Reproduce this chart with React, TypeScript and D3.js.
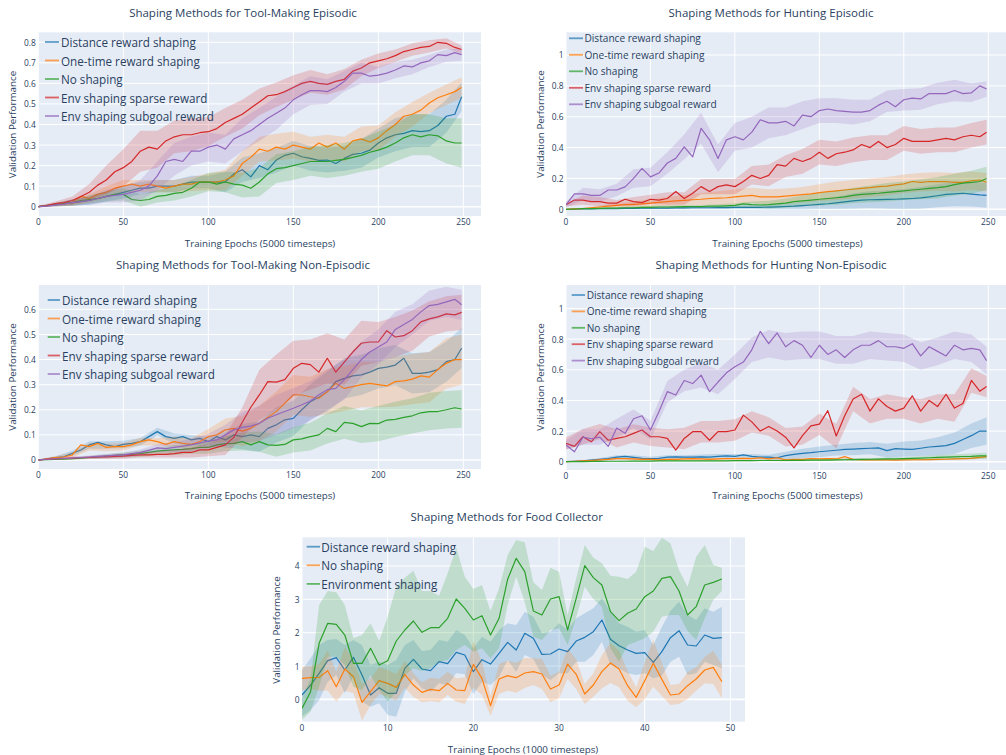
import * as d3 from 'd3';

const FONT = "'Open Sans', sans-serif";
const INK = '#2a3f5f';
const PLOT_BG = '#E5ECF6';

const BLUE = '#1f77b4';
const ORANGE = '#ff7f0e';
const GREEN = '#2ca02c';
const RED = '#d62728';
const PURPLE = '#9467bd';

// sampled epochs: means every 5 epochs, band half-widths every 10
const epochs5 = d3.range(0, 250, 5).concat([249]);
const epochs10 = d3.range(0, 250, 10).concat([249]);
const foodEpochs = d3.range(0, 50);

const toolNames = [
  'Distance reward shaping',
  'One-time reward shaping',
  'No shaping',
  'Env shaping sparse reward',
  'Env shaping subgoal reward',
];
const toolColors = [BLUE, ORANGE, GREEN, RED, PURPLE];

// ---- Tool-Making Episodic
const p1Distance = [0,0.005,0.01,0.015,0.02,0.025,0.03,0.04,0.05,0.06,0.07,0.08,0.09,0.09,0.1,0.1,0.1,0.11,0.12,0.12,0.12,0.12,0.12,0.16,0.18,0.145,0.2,0.18,0.227,0.25,0.26,0.243,0.235,0.225,0.227,0.21,0.235,0.255,0.26,0.275,0.31,0.335,0.35,0.357,0.37,0.365,0.37,0.395,0.44,0.45,0.535];
const p1OneTime = [0,0.005,0.01,0.015,0.02,0.05,0.04,0.06,0.07,0.09,0.1,0.11,0.1,0.11,0.1,0.09,0.1,0.11,0.11,0.12,0.12,0.12,0.13,0.15,0.21,0.24,0.28,0.27,0.29,0.28,0.3,0.29,0.28,0.31,0.29,0.31,0.28,0.32,0.33,0.315,0.335,0.37,0.4,0.44,0.45,0.47,0.505,0.53,0.545,0.56,0.58];
const p1None = [0,0.005,0.01,0.015,0.02,0.03,0.035,0.04,0.05,0.06,0.06,0.035,0.03,0.035,0.05,0.055,0.065,0.07,0.09,0.12,0.12,0.11,0.12,0.11,0.105,0.09,0.12,0.16,0.185,0.19,0.2,0.21,0.22,0.22,0.22,0.225,0.23,0.24,0.25,0.265,0.275,0.29,0.31,0.335,0.35,0.34,0.35,0.345,0.32,0.31,0.31];
const p1Sparse = [0,0.005,0.015,0.02,0.03,0.05,0.07,0.105,0.13,0.17,0.19,0.22,0.27,0.29,0.28,0.32,0.34,0.35,0.35,0.36,0.365,0.38,0.41,0.43,0.45,0.48,0.51,0.54,0.545,0.56,0.58,0.6,0.61,0.6,0.595,0.61,0.62,0.66,0.675,0.7,0.71,0.72,0.735,0.755,0.765,0.775,0.78,0.8,0.795,0.775,0.765];
const p1Subgoal = [0,0.003,0.008,0.012,0.02,0.025,0.03,0.04,0.05,0.055,0.06,0.07,0.08,0.1,0.15,0.22,0.23,0.22,0.27,0.27,0.29,0.3,0.28,0.33,0.35,0.37,0.4,0.43,0.455,0.48,0.52,0.545,0.565,0.565,0.56,0.58,0.61,0.65,0.65,0.635,0.64,0.65,0.665,0.685,0.68,0.7,0.71,0.74,0.735,0.75,0.74];
const p1DistanceSpread = [0.003,0.008,0.015,0.02,0.025,0.03,0.03,0.03,0.03,0.03,0.03,0.05,0.06,0.06,0.06,0.06,0.06,0.06,0.06,0.07,0.07,0.08,0.08,0.08,0.08,0.07];
const p1OneTimeSpread = [0.003,0.008,0.015,0.02,0.03,0.03,0.03,0.03,0.03,0.035,0.04,0.05,0.06,0.06,0.065,0.065,0.06,0.06,0.06,0.06,0.06,0.06,0.06,0.05,0.05,0.05];
const p1NoneSpread = [0.003,0.008,0.015,0.02,0.025,0.03,0.03,0.03,0.035,0.04,0.045,0.05,0.06,0.07,0.07,0.07,0.07,0.08,0.08,0.08,0.09,0.09,0.1,0.1,0.11,0.12];
const p1SparseSpread = [0.005,0.01,0.02,0.04,0.07,0.09,0.1,0.09,0.08,0.08,0.07,0.07,0.07,0.065,0.06,0.06,0.055,0.05,0.05,0.04,0.035,0.03,0.03,0.03,0.025,0.02];
const p1SubgoalSpread = [0.003,0.008,0.015,0.02,0.03,0.04,0.05,0.07,0.08,0.07,0.07,0.07,0.08,0.08,0.08,0.07,0.07,0.06,0.05,0.05,0.04,0.04,0.035,0.03,0.03,0.03];

// ---- Hunting Episodic
const p2Distance = [0,0.001,0.002,0.003,0.004,0.005,0.005,0.006,0.006,0.007,0.007,0.008,0.008,0.009,0.009,0.01,0.01,0.01,0.011,0.011,0.012,0.012,0.013,0.013,0.014,0.016,0.018,0.02,0.024,0.028,0.032,0.036,0.042,0.048,0.054,0.06,0.062,0.063,0.064,0.065,0.067,0.07,0.074,0.08,0.088,0.097,0.1,0.104,0.098,0.093,0.09];
const p2OneTime = [0,0.003,0.005,0.01,0.015,0.02,0.025,0.03,0.032,0.035,0.04,0.045,0.05,0.055,0.058,0.062,0.065,0.07,0.072,0.075,0.08,0.085,0.09,0.08,0.08,0.08,0.085,0.09,0.095,0.1,0.108,0.115,0.12,0.125,0.13,0.136,0.14,0.147,0.15,0.158,0.165,0.18,0.175,0.18,0.18,0.18,0.175,0.175,0.185,0.19,0.175];
const p2None = [0,0.002,0.004,0.005,0.006,0.007,0.008,0.01,0.01,0.012,0.013,0.015,0.015,0.016,0.017,0.018,0.018,0.02,0.02,0.022,0.025,0.035,0.03,0.028,0.03,0.035,0.04,0.05,0.055,0.06,0.065,0.07,0.075,0.08,0.09,0.097,0.1,0.104,0.11,0.115,0.12,0.125,0.13,0.136,0.14,0.147,0.16,0.17,0.175,0.18,0.2];
const p2Sparse = [0.03,0.06,0.06,0.05,0.05,0.04,0.04,0.065,0.05,0.043,0.065,0.06,0.07,0.115,0.07,0.104,0.147,0.115,0.147,0.158,0.147,0.18,0.22,0.2,0.22,0.29,0.28,0.33,0.31,0.33,0.37,0.33,0.36,0.37,0.385,0.42,0.4,0.44,0.4,0.42,0.46,0.44,0.44,0.44,0.45,0.46,0.45,0.47,0.48,0.47,0.5];
const p2Subgoal = [0.03,0.1,0.1,0.09,0.09,0.125,0.125,0.145,0.2,0.265,0.21,0.235,0.3,0.33,0.405,0.34,0.525,0.45,0.33,0.45,0.47,0.45,0.5,0.58,0.56,0.56,0.57,0.54,0.61,0.6,0.64,0.65,0.64,0.635,0.63,0.63,0.64,0.675,0.7,0.665,0.71,0.72,0.715,0.75,0.75,0.75,0.77,0.75,0.755,0.8,0.78];
const p2DistanceSpread = [0.001,0.002,0.004,0.005,0.006,0.007,0.008,0.009,0.01,0.011,0.012,0.013,0.015,0.02,0.025,0.03,0.04,0.05,0.055,0.06,0.065,0.07,0.075,0.08,0.08,0.08];
const p2OneTimeSpread = [0.003,0.005,0.01,0.015,0.02,0.025,0.03,0.035,0.04,0.045,0.05,0.05,0.05,0.05,0.05,0.055,0.06,0.06,0.06,0.06,0.06,0.06,0.06,0.06,0.06,0.06];
const p2NoneSpread = [0.002,0.004,0.005,0.006,0.008,0.01,0.01,0.01,0.01,0.012,0.015,0.02,0.025,0.03,0.035,0.04,0.045,0.05,0.055,0.06,0.06,0.065,0.07,0.07,0.075,0.075];
const p2SparseSpread = [0.01,0.03,0.03,0.02,0.03,0.03,0.04,0.04,0.05,0.05,0.05,0.06,0.07,0.07,0.08,0.08,0.08,0.08,0.08,0.08,0.08,0.08,0.08,0.08,0.08,0.08];
const p2SubgoalSpread = [0.02,0.04,0.04,0.04,0.06,0.06,0.07,0.08,0.1,0.09,0.09,0.1,0.1,0.09,0.09,0.08,0.08,0.08,0.07,0.07,0.07,0.07,0.07,0.07,0.06,0.05];

// ---- Tool-Making Non-Episodic
const p3Distance = [0,0.005,0.01,0.013,0.027,0.04,0.06,0.07,0.06,0.053,0.062,0.066,0.073,0.093,0.113,0.093,0.086,0.093,0.08,0.086,0.073,0.093,0.08,0.1,0.093,0.1,0.093,0.126,0.14,0.16,0.166,0.2,0.232,0.25,0.272,0.312,0.325,0.335,0.339,0.35,0.365,0.37,0.378,0.405,0.345,0.345,0.35,0.36,0.392,0.4,0.445];
const p3OneTime = [0,0.005,0.01,0.012,0.02,0.06,0.053,0.066,0.05,0.053,0.053,0.06,0.073,0.08,0.073,0.062,0.073,0.066,0.062,0.073,0.093,0.1,0.12,0.126,0.115,0.126,0.146,0.17,0.193,0.226,0.259,0.259,0.252,0.246,0.272,0.305,0.285,0.292,0.3,0.305,0.3,0.295,0.312,0.315,0.322,0.335,0.33,0.36,0.385,0.4,0.4];
const p3None = [0,0.001,0.002,0.003,0.005,0.007,0.01,0.012,0.015,0.018,0.02,0.022,0.025,0.03,0.035,0.038,0.04,0.042,0.045,0.05,0.05,0.06,0.065,0.066,0.073,0.06,0.073,0.06,0.058,0.062,0.08,0.084,0.093,0.1,0.126,0.113,0.15,0.146,0.133,0.146,0.145,0.159,0.162,0.17,0.176,0.188,0.193,0.193,0.2,0.208,0.203];
const p3Sparse = [0,0.003,0.005,0.006,0.008,0.01,0.01,0.012,0.012,0.014,0.015,0.018,0.02,0.02,0.022,0.022,0.025,0.03,0.03,0.04,0.04,0.05,0.06,0.09,0.15,0.21,0.259,0.312,0.31,0.32,0.365,0.385,0.38,0.35,0.405,0.35,0.39,0.43,0.465,0.47,0.47,0.515,0.49,0.495,0.515,0.55,0.562,0.57,0.582,0.578,0.588];
const p3Subgoal = [0,0.003,0.005,0.006,0.008,0.01,0.012,0.014,0.016,0.018,0.02,0.025,0.03,0.038,0.048,0.045,0.05,0.055,0.06,0.068,0.075,0.08,0.1,0.12,0.13,0.135,0.146,0.166,0.18,0.193,0.206,0.22,0.235,0.26,0.28,0.285,0.32,0.36,0.4,0.43,0.45,0.47,0.52,0.54,0.56,0.59,0.615,0.62,0.63,0.64,0.618];
const p3DistanceSpread = [0.002,0.005,0.01,0.015,0.015,0.015,0.015,0.015,0.02,0.02,0.02,0.03,0.05,0.06,0.07,0.07,0.07,0.08,0.08,0.08,0.08,0.08,0.08,0.08,0.08,0.08];
const p3OneTimeSpread = [0.002,0.005,0.01,0.015,0.015,0.015,0.015,0.015,0.02,0.025,0.03,0.045,0.06,0.07,0.08,0.08,0.08,0.09,0.09,0.09,0.09,0.1,0.1,0.1,0.1,0.1];
const p3NoneSpread = [0.001,0.002,0.004,0.006,0.008,0.01,0.012,0.015,0.02,0.02,0.025,0.03,0.035,0.04,0.045,0.05,0.055,0.06,0.065,0.065,0.07,0.07,0.07,0.075,0.075,0.075];
const p3SparseSpread = [0.002,0.004,0.005,0.006,0.008,0.01,0.01,0.012,0.015,0.02,0.025,0.04,0.06,0.1,0.11,0.11,0.1,0.1,0.09,0.09,0.08,0.08,0.08,0.07,0.07,0.07];
const p3SubgoalSpread = [0.002,0.004,0.005,0.006,0.008,0.01,0.012,0.015,0.02,0.025,0.03,0.04,0.06,0.07,0.08,0.08,0.08,0.08,0.08,0.07,0.07,0.07,0.06,0.06,0.06,0.06];

// ---- Hunting Non-Episodic
const p4Distance = [0,0.003,0.006,0.01,0.015,0.02,0.03,0.035,0.028,0.022,0.02,0.022,0.03,0.032,0.03,0.03,0.032,0.03,0.035,0.038,0.035,0.045,0.035,0.03,0.03,0.026,0.04,0.048,0.055,0.059,0.065,0.07,0.075,0.08,0.082,0.085,0.088,0.09,0.072,0.085,0.082,0.08,0.088,0.096,0.1,0.105,0.12,0.145,0.17,0.2,0.2];
const p4OneTime = [0,0.002,0.005,0.008,0.012,0.015,0.02,0.02,0.018,0.015,0.015,0.012,0.015,0.015,0.018,0.02,0.018,0.015,0.018,0.02,0.02,0.022,0.02,0.026,0.018,0.026,0.012,0.015,0.015,0.02,0.018,0.02,0.018,0.033,0.015,0.012,0.012,0.012,0.012,0.011,0.012,0.013,0.013,0.014,0.015,0.016,0.018,0.02,0.022,0.028,0.033];
const p4None = [0,0.001,0.001,0.002,0.002,0.003,0.003,0.003,0.004,0.004,0.004,0.005,0.005,0.005,0.005,0.005,0.006,0.006,0.006,0.006,0.007,0.007,0.007,0.008,0.008,0.008,0.008,0.009,0.009,0.01,0.01,0.011,0.012,0.013,0.014,0.015,0.016,0.017,0.018,0.019,0.02,0.022,0.024,0.026,0.028,0.03,0.032,0.034,0.035,0.038,0.038];
const p4Sparse = [0.12,0.1,0.163,0.13,0.196,0.14,0.152,0.163,0.185,0.207,0.163,0.163,0.152,0.076,0.152,0.196,0.196,0.14,0.196,0.196,0.207,0.304,0.26,0.2,0.23,0.2,0.16,0.09,0.17,0.234,0.245,0.333,0.168,0.3,0.409,0.44,0.33,0.41,0.36,0.33,0.35,0.43,0.33,0.4,0.36,0.44,0.35,0.38,0.53,0.46,0.49];
const p4Subgoal = [0.11,0.065,0.16,0.15,0.16,0.1,0.22,0.185,0.28,0.3,0.207,0.326,0.457,0.435,0.53,0.51,0.565,0.457,0.52,0.58,0.62,0.65,0.73,0.85,0.77,0.84,0.75,0.79,0.76,0.68,0.76,0.7,0.73,0.68,0.73,0.76,0.76,0.79,0.75,0.75,0.74,0.77,0.69,0.75,0.72,0.69,0.76,0.73,0.74,0.73,0.66];
const p4DistanceSpread = [0.002,0.006,0.01,0.012,0.015,0.012,0.012,0.012,0.015,0.015,0.015,0.015,0.015,0.025,0.03,0.035,0.035,0.04,0.04,0.045,0.05,0.05,0.06,0.07,0.08,0.09];
const p4OneTimeSpread = [0.002,0.004,0.006,0.006,0.006,0.006,0.006,0.006,0.006,0.006,0.006,0.006,0.006,0.006,0.006,0.006,0.006,0.006,0.006,0.006,0.006,0.006,0.006,0.006,0.008,0.008];
const p4NoneSpread = [0.001,0.002,0.002,0.003,0.003,0.003,0.004,0.004,0.004,0.005,0.005,0.005,0.005,0.006,0.006,0.006,0.007,0.008,0.009,0.01,0.01,0.012,0.014,0.016,0.018,0.02];
const p4SparseSpread = [0.04,0.05,0.05,0.06,0.06,0.06,0.06,0.07,0.07,0.07,0.07,0.07,0.06,0.06,0.06,0.07,0.08,0.08,0.08,0.08,0.07,0.08,0.08,0.09,0.08,0.07];
const p4SubgoalSpread = [0.03,0.05,0.05,0.06,0.06,0.06,0.07,0.07,0.08,0.08,0.08,0.08,0.09,0.09,0.09,0.09,0.09,0.09,0.09,0.09,0.09,0.09,0.09,0.09,0.09,0.09];

// ---- Food Collector
const foodNames = ['Distance reward shaping', 'No shaping', 'Environment shaping'];
const foodDistance = [0.13,0.43,0.78,1.16,1.25,0.88,1.26,0.73,0.13,0.35,0.18,0.18,0.93,1.2,0.91,0.86,1.13,1.07,1.41,1.33,0.83,1.19,1.06,1.38,1.71,1.48,1.98,1.83,1.35,1.36,1.51,1.43,1.75,1.86,2.03,2.38,1.8,1.61,1.48,1.38,1.4,1.11,1.43,1.85,2.06,1.63,1.6,1.93,1.83,1.85];
const foodDistanceHi = [0.88,1.23,1.63,1.78,1.81,1.63,1.78,1.63,1.03,1.13,1.03,1.18,1.63,1.78,1.45,1.48,1.78,1.73,2.08,1.93,1.53,1.88,1.73,2.08,2.28,2.23,2.63,2.48,1.98,2.03,2.28,2.08,2.43,2.58,2.73,3.03,2.63,2.28,2.18,2.03,2.08,1.63,2.18,2.65,2.93,2.53,2.38,2.73,2.63,2.78];
const foodDistanceLo = [-0.52,-0.32,-0.02,0.53,0.73,0.18,0.68,-0.07,-0.22,-0.12,-0.47,-0.52,0.23,0.63,0.33,0.23,0.48,0.43,0.78,0.75,0.15,0.53,0.43,0.68,1.18,0.83,1.33,1.21,0.73,0.58,0.78,0.78,1.13,1.13,1.33,1.73,1.03,0.93,0.78,0.73,0.78,0.63,0.71,1.13,1.28,0.73,0.78,1.13,1.03,0.93];
const foodNone = [0.63,0.65,0.66,0.86,0.38,0.91,0.68,-0.09,0.23,0.56,0.48,0.36,0.75,0.43,0.21,0.3,0.26,0.48,0.28,0.26,1.05,0.63,-0.19,0.61,0.71,0.65,0.79,0.83,0.76,0.31,0.43,1.06,0.75,0.16,0.43,0.83,1.09,0.91,0.41,0.06,0.56,1.08,0.6,0.13,0.16,0.41,0.61,0.88,0.96,0.53];
const foodNoneSpread = [0.35,0.35,0.4,0.6,0.45,0.65,0.5,0.55,0.4,0.4,0.4,0.4,0.4,0.35,0.3,0.35,0.35,0.35,0.35,0.4,0.7,0.5,0.3,0.45,0.45,0.45,0.45,0.4,0.45,0.4,0.4,0.45,0.45,0.3,0.35,0.5,0.6,0.55,0.45,0.3,0.55,0.7,0.5,0.3,0.3,0.4,0.35,0.4,0.5,0.5];
const foodEnv = [-0.27,0.23,1.68,2.28,2.25,1.93,1.08,1.08,1.53,1.03,1.16,1.75,2.08,2.35,2.01,2.15,2.15,2.43,3.01,2.73,2.38,2.51,1.93,2.43,3.6,4.23,3.83,2.65,2.53,3.01,3.08,2.08,3.03,4.01,3.65,3.43,2.63,2.36,2.58,2.71,3.08,3.25,3.63,3.68,3.25,2.53,2.78,3.43,3.51,3.61];
const foodEnvHi = [0.03,0.63,2.83,3.25,3.21,2.83,1.83,1.93,2.28,1.75,2.48,3.38,3.65,3.86,3.25,3.25,3.11,3.78,4.55,3.68,3.31,3.43,2.65,3.33,4.33,4.78,4.71,3.51,3.28,3.95,3.83,2.53,3.63,4.63,4.25,4.08,3.71,3.68,3.61,3.83,4.58,4.45,4.85,4.68,3.88,3.38,4.28,4.63,4.03,3.95];
const foodEnvLo = [-0.62,-0.37,0.38,1.28,1.28,1.03,0.38,0.28,0.73,0.28,-0.07,0.23,0.73,0.93,0.85,0.93,1.13,1.18,1.48,1.63,1.43,1.53,1.23,1.53,2.83,3.68,2.91,1.88,1.78,2.08,2.13,1.63,2.45,3.38,3.01,2.78,1.53,1.13,1.63,1.73,1.83,2.03,2.48,2.53,2.53,2.05,1.78,2.43,2.98,3.25];

const epochTicks = [0, 50, 100, 150, 200, 250];
const foodXTicks = [0, 10, 20, 30, 40, 50];
const p1YTicks = [0, 0.1, 0.2, 0.3, 0.4, 0.5, 0.6, 0.7, 0.8];
const p3YTicks = [0, 0.1, 0.2, 0.3, 0.4, 0.5, 0.6];
const huntYTicks = [0, 0.2, 0.4, 0.6, 0.8, 1];
const foodYTicks = [0, 1, 2, 3, 4];

type Series = {
  name: string;
  color: string;
  line: [number, number][];
  band: [number, number, number][];
};

function toolSeries(means: number[][], spreads: number[][]): Series[] {
  return means.map((m, i) => ({
    name: toolNames[i],
    color: toolColors[i],
    line: epochs5.map((e, j) => [e, m[j]] as [number, number]),
    band: epochs10.map((e, j) => {
      const v = m[epochs5.indexOf(e)];
      return [e, v - spreads[i][j], v + spreads[i][j]] as [number, number, number];
    }),
  }));
}

const foodSeries: Series[] = [
  {
    name: foodNames[0], color: BLUE,
    line: foodEpochs.map((e, i) => [e, foodDistance[i]]),
    band: foodEpochs.map((e, i) => [e, foodDistanceLo[i], foodDistanceHi[i]]),
  },
  {
    name: foodNames[1], color: ORANGE,
    line: foodEpochs.map((e, i) => [e, foodNone[i]]),
    band: foodEpochs.map((e, i) => [e, foodNone[i] - foodNoneSpread[i], foodNone[i] + foodNoneSpread[i]]),
  },
  {
    name: foodNames[2], color: GREEN,
    line: foodEpochs.map((e, i) => [e, foodEnv[i]]),
    band: foodEpochs.map((e, i) => [e, foodEnvLo[i], foodEnvHi[i]]),
  },
];

type PanelCfg = {
  id: string;
  title: string;
  titleX: number;
  titleY: number;
  xLabel: string;
  xLabelX: number;
  xLabelY: number;
  yLabelX: number;
  yLabelY: number;
  left: number;
  right: number;
  top: number;
  bottom: number;
  xDomain: [number, number];
  yDomain: [number, number];
  xTicks: number[];
  yTicks: number[];
  legend: { x0: number; x1: number; tx: number; y0: number; dy: number; fs: number };
  series: Series[];
};

const panels: PanelCfg[] = [
  {
    id: 'p1', title: 'Shaping Methods for Tool-Making Episodic', titleX: 243, titleY: 12,
    xLabel: 'Training Epochs (5000 timesteps)', xLabelX: 260, xLabelY: 243.3, yLabelX: 12.7, yLabelY: 124.5,
    left: 38.3, right: 481, top: 32.3, bottom: 216, xDomain: [0, 260.4], yDomain: [-0.0453, 0.8487],
    xTicks: epochTicks, yTicks: p1YTicks,
    legend: { x0: 45, x1: 59, tx: 61, y0: 42, dy: 18.5, fs: 11.7 },
    series: toolSeries([p1Distance, p1OneTime, p1None, p1Sparse, p1Subgoal],
      [p1DistanceSpread, p1OneTimeSpread, p1NoneSpread, p1SparseSpread, p1SubgoalSpread]),
  },
  {
    id: 'p2', title: 'Shaping Methods for Hunting Episodic', titleX: 771, titleY: 12,
    xLabel: 'Training Epochs (5000 timesteps)', xLabelX: 787.5, xLabelY: 243.3, yLabelX: 540.7, yLabelY: 124,
    left: 566, right: 1006, top: 32.3, bottom: 216, xDomain: [0, 260.5], yDomain: [-0.0434, 1.147],
    xTicks: epochTicks, yTicks: huntYTicks,
    legend: { x0: 569, x1: 583, tx: 584.5, y0: 38.3, dy: 16.5, fs: 10.1 },
    series: toolSeries([p2Distance, p2OneTime, p2None, p2Sparse, p2Subgoal],
      [p2DistanceSpread, p2OneTimeSpread, p2NoneSpread, p2SparseSpread, p2SubgoalSpread]),
  },
  {
    id: 'p3', title: 'Shaping Methods for Tool-Making Non-Episodic', titleX: 243, titleY: 264.3,
    xLabel: 'Training Epochs (5000 timesteps)', xLabelX: 260, xLabelY: 495.7, yLabelX: 12.7, yLabelY: 377,
    left: 38.3, right: 481, top: 285, bottom: 469, xDomain: [0, 260.4], yDomain: [-0.0359, 0.697],
    xTicks: epochTicks, yTicks: p3YTicks,
    legend: { x0: 47.7, x1: 60, tx: 62, y0: 300, dy: 18.5, fs: 11.7 },
    series: toolSeries([p3Distance, p3OneTime, p3None, p3Sparse, p3Subgoal],
      [p3DistanceSpread, p3OneTimeSpread, p3NoneSpread, p3SparseSpread, p3SubgoalSpread]),
  },
  {
    id: 'p4', title: 'Shaping Methods for Hunting Non-Episodic', titleX: 771, titleY: 264.3,
    xLabel: 'Training Epochs (5000 timesteps)', xLabelX: 787.5, xLabelY: 495.3, yLabelX: 540.7, yLabelY: 377,
    left: 566, right: 1006, top: 285, bottom: 470, xDomain: [0, 260.5], yDomain: [-0.054, 1.153],
    xTicks: epochTicks, yTicks: huntYTicks,
    legend: { x0: 571.7, x1: 585, tx: 586.7, y0: 295, dy: 16.4, fs: 10.1 },
    series: toolSeries([p4Distance, p4OneTime, p4None, p4Sparse, p4Subgoal],
      [p4DistanceSpread, p4OneTimeSpread, p4NoneSpread, p4SparseSpread, p4SubgoalSpread]),
  },
  {
    id: 'p5', title: 'Shaping Methods for Food Collector', titleX: 506.7, titleY: 516.7,
    xLabel: 'Training Epochs (1000 timesteps)', xLabelX: 523, xLabelY: 749.3, yLabelX: 276.7, yLabelY: 630,
    left: 302, right: 745, top: 537.3, bottom: 721.7, xDomain: [0, 51.7], yDomain: [-0.67, 4.86],
    xTicks: foodXTicks, yTicks: foodYTicks,
    legend: { x0: 306.7, x1: 320, tx: 321.3, y0: 546.7, dy: 18.6, fs: 11.7 },
    series: foodSeries,
  },
];

const fmt = d3.format('~g');

function Panel({ cfg }: { cfg: PanelCfg }) {
  const x = d3.scaleLinear().domain(cfg.xDomain).range([cfg.left, cfg.right]);
  const y = d3.scaleLinear().domain(cfg.yDomain).range([cfg.bottom, cfg.top]);
  const line = d3.line<[number, number]>().x(d => x(d[0])).y(d => y(d[1]));
  const area = d3
    .area<[number, number, number]>()
    .x(d => x(d[0]))
    .y0(d => y(d[1]))
    .y1(d => y(d[2]));
  const clipId = `clip-${cfg.id}`;
  const lg = cfg.legend;

  return (
    <g fontFamily={FONT}>
      <defs>
        <clipPath id={clipId}>
          <rect x={cfg.left} y={cfg.top} width={cfg.right - cfg.left} height={cfg.bottom - cfg.top} />
        </clipPath>
      </defs>
      <rect x={cfg.left} y={cfg.top} width={cfg.right - cfg.left} height={cfg.bottom - cfg.top} fill={PLOT_BG} />
      {cfg.xTicks.map(t => (
        <line key={'gx' + t} x1={x(t)} x2={x(t)} y1={cfg.top} y2={cfg.bottom} stroke="#fff" strokeWidth={1} />
      ))}
      {cfg.yTicks.map(t => (
        <line key={'gy' + t} x1={cfg.left} x2={cfg.right} y1={y(t)} y2={y(t)} stroke="#fff" strokeWidth={t === 0 ? 1.6 : 1} />
      ))}

      <g clipPath={`url(#${clipId})`}>
        {cfg.series.map(s => (
          <g key={s.name}>
            <path d={area(s.band) ?? ''} fill={s.color} fillOpacity={0.2} stroke="none" />
            <path d={line(s.line) ?? ''} fill="none" stroke={s.color} strokeWidth={1.2} strokeLinejoin="round" />
          </g>
        ))}
      </g>

      {/* tick labels */}
      {cfg.xTicks.map(t => (
        <text key={'tx' + t} x={x(t)} y={cfg.bottom + 5.6} fontSize={8.4} fill={INK} textAnchor="middle" dominantBaseline="central">
          {fmt(t)}
        </text>
      ))}
      {cfg.yTicks.map(t => (
        <text key={'ty' + t} x={cfg.left - 2.5} y={y(t)} fontSize={8.4} fill={INK} textAnchor="end" dominantBaseline="central">
          {fmt(t)}
        </text>
      ))}

      {/* titles */}
      <text x={cfg.titleX} y={cfg.titleY} fontSize={11.5} fill={INK} textAnchor="middle" dominantBaseline="central">
        {cfg.title}
      </text>
      <text x={cfg.xLabelX} y={cfg.xLabelY} fontSize={9.8} fill={INK} textAnchor="middle" dominantBaseline="central">
        {cfg.xLabel}
      </text>
      <text
        transform={`translate(${cfg.yLabelX},${cfg.yLabelY}) rotate(-90)`}
        fontSize={9.8}
        fill={INK}
        textAnchor="middle"
        dominantBaseline="central"
      >
        Validation Performance
      </text>

      {/* legend */}
      {cfg.series.map((s, i) => {
        const ly = lg.y0 + i * lg.dy;
        return (
          <g key={'lg' + s.name}>
            <line x1={lg.x0} x2={lg.x1} y1={ly} y2={ly} stroke={s.color} strokeOpacity={0.7} strokeWidth={1.8} />
            <text x={lg.tx} y={ly} fontSize={lg.fs} fill={INK} dominantBaseline="central">
              {s.name}
            </text>
          </g>
        );
      })}
    </g>
  );
}

export default function App() {
  return (
    <svg
      width={1006}
      height={755}
      style={{ position: 'absolute', left: 0, top: 0, background: '#fff' }}
    >
      {panels.map(p => (
        <Panel key={p.id} cfg={p} />
      ))}
    </svg>
  );
}
